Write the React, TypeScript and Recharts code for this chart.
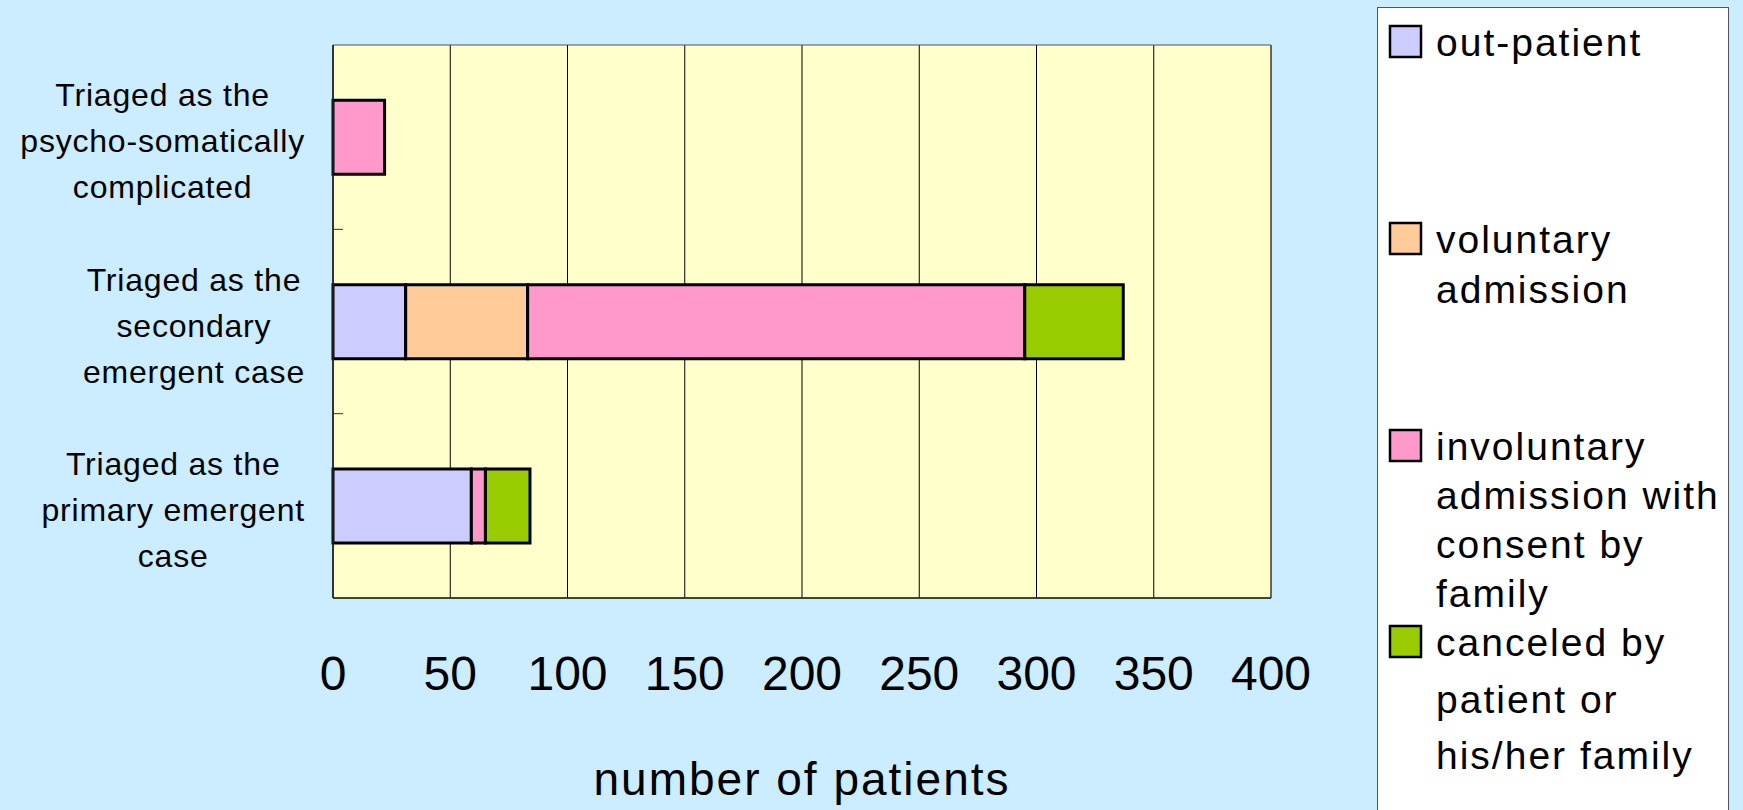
import {
  BarChart,
  Bar,
  XAxis,
  YAxis,
  CartesianGrid,
  ReferenceArea,
  Label
} from "recharts"

// data
const categories = [
  "Triaged as the psycho-somatically complicated",
  "Triaged as the secondary emergent case",
  "Triaged as the primary emergent case"
]
const categoryLines = [
  ["Triaged as the", "psycho-somatically", "complicated"],
  ["Triaged as the", "secondary", "emergent case"],
  ["Triaged as the", "primary emergent", "case"]
]
const outPatient = [0, 31, 59]
const voluntary = [0, 52, 0]
const involuntary = [22, 212, 6]
const canceled = [0, 42, 19]
const xTicks = [0, 50, 100, 150, 200, 250, 300, 350, 400]

const seriesNames = [
  "out-patient",
  "voluntary admission",
  "involuntary admission with consent by family",
  "canceled by patient or his/her family"
]
const legendLines = [
  ["out-patient"],
  ["voluntary", "admission"],
  ["involuntary", "admission with", "consent by", "family"],
  ["canceled by", "patient or", "his/her family"]
]
const colors = ["#CCCCFF", "#FFCC99", "#FF99CC", "#99CC00"]

const data = categories.map((name, i) => ({
  name,
  outPatient: outPatient[i],
  voluntary: voluntary[i],
  involuntary: involuntary[i],
  canceled: canceled[i]
}))
const keys = ["outPatient", "voluntary", "involuntary", "canceled"]

const W = 1743
const H = 810
const TOP = 45
const BOTTOM = 598
const LEFT = 333
const RIGHT = 1271
const FONT = '"Liberation Sans", Arial, sans-serif'

const catFontSize = 32
const catSpacing = 0.8
let ctx: CanvasRenderingContext2D | null = null
function measure(s: string) {
  if (!ctx) {
    ctx = document.createElement("canvas").getContext("2d")
  }
  if (!ctx) return s.length * catFontSize * 0.5
  ctx.font = `${catFontSize}px ${FONT}`
  return ctx.measureText(s).width + catSpacing * s.length
}

const CategoryTick = ({ x, y, index }: any) => {
  const lines = categoryLines[index] || []
  const maxW = Math.max(...lines.map(measure))
  const cx = x - 28 - maxW / 2
  const band = (BOTTOM - TOP) / categories.length
  const n = lines.length
  return (
    <g>
      {index < categories.length - 1 && (
        <line x1={x} x2={x + 10} y1={y + band / 2} y2={y + band / 2} stroke="#333" strokeWidth={1} />
      )}
      <text
        textAnchor="middle"
        fontFamily={FONT}
        fontSize={catFontSize}
        letterSpacing={catSpacing}
        fill="#000"
      >
        {lines.map((l, i) => (
          <tspan key={i} x={cx} y={y + 15 + (i - (n - 1) / 2) * 46}>
            {l}
          </tspan>
        ))}
      </text>
    </g>
  )
}

const ValueTick = ({ x, y, payload }: any) => (
  <text x={x} y={y + 92} textAnchor="middle" fontFamily={FONT} fontSize={48} fill="#000">
    {payload.value}
  </text>
)

function Legendbox() {
  const baselines = [48, 245, 452, 648]
  const spacing = [50, 50, 49, 56.5]
  return (
    <div
      style={{
        position: "absolute",
        left: 1377,
        top: 7,
        width: 352,
        height: 820,
        background: "#fff",
        border: "1.5px solid #555",
        boxSizing: "border-box"
      }}
    >
      <svg width={352} height={820} style={{ overflow: "visible" }}>
        {seriesNames.map((s, i) => (
          <g key={s}>
            <rect x={12} y={baselines[i] - 30} width={31} height={31} fill={colors[i]} stroke="#000" strokeWidth={2.5} />
            <text fontFamily={FONT} fontSize={39} letterSpacing={2} fill="#000">
              {legendLines[i].map((l, j) => (
                <tspan key={j} x={58} y={baselines[i] + j * spacing[i]}>
                  {l}
                </tspan>
              ))}
            </text>
          </g>
        ))}
      </svg>
    </div>
  )
}

export default function App() {
  return (
    <div
      style={{
        position: "absolute",
        left: 0,
        top: 0,
        width: W,
        height: H,
        background: "#CCECFF",
        overflow: "hidden"
      }}
    >
      <BarChart
        width={W}
        height={H}
        data={data}
        layout="vertical"
        barCategoryGap="30%"
        margin={{ top: TOP, right: W - RIGHT, bottom: 0, left: 0 }}
      >
        <CartesianGrid horizontal={false} stroke="#000" fill="#FFFFCC" />
        <ReferenceArea x1={0} x2={400} fill="none" stroke="#555" strokeWidth={1} />

        <XAxis
          type="number"
          domain={[0, 400]}
          ticks={xTicks}
          interval={0}
          height={H - BOTTOM}
          tickLine={false}
          tickSize={0}
          tickMargin={0}
          axisLine={{ stroke: "#222", strokeWidth: 1.5 }}
          tick={<ValueTick />}
        >
          <Label
            value="number of patients"
            position="insideBottom"
            offset={15}
            style={{ fontFamily: FONT, fontSize: 46, letterSpacing: 2, fill: "#000" }}
          />
        </XAxis>
        <YAxis
          type="category"
          dataKey="name"
          width={LEFT}
          tickLine={false}
          tickSize={0}
          tickMargin={0}
          interval={0}
          axisLine={{ stroke: "#222", strokeWidth: 1.5 }}
          tick={<CategoryTick />}
        />

        {keys.map((k, i) => (
          <Bar
            key={k}
            dataKey={k}
            name={seriesNames[i]}
            stackId="a"
            fill={colors[i]}
            stroke="#000"
            strokeWidth={3}
            isAnimationActive={false}
          />
        ))}
      </BarChart>
      <Legendbox />
    </div>
  )
}
